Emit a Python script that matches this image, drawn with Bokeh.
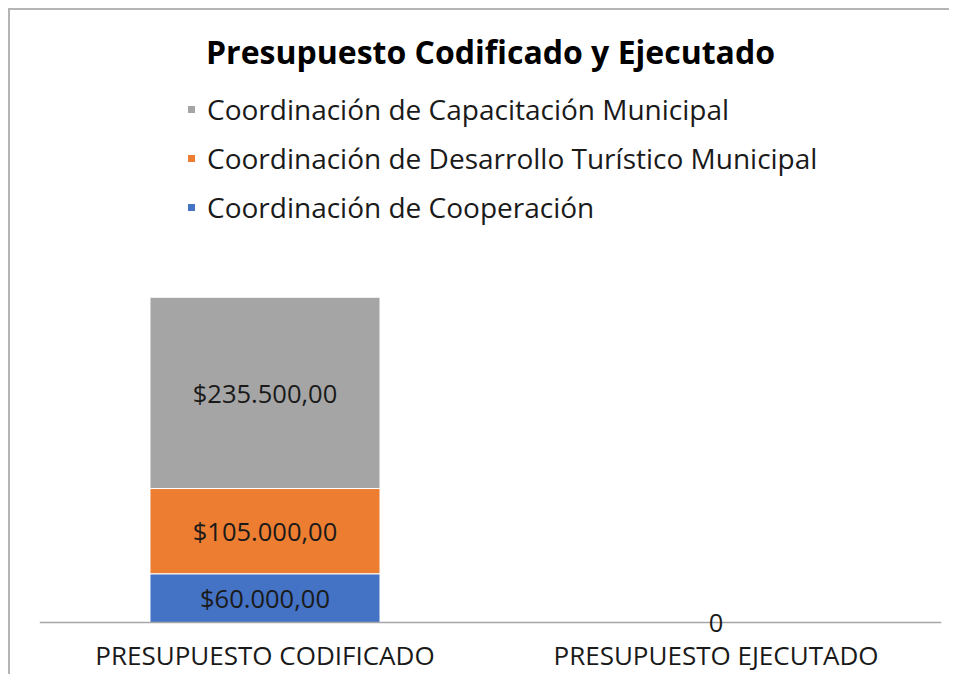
from bokeh.plotting import figure
from bokeh.models import FactorRange, Range1d, Legend, LegendItem, ColumnDataSource, LabelSet
from bokeh.core.properties import value
from bokeh.embed import file_html
from bokeh.resources import INLINE

# ---- data ----
categories = ["PRESUPUESTO CODIFICADO", "PRESUPUESTO EJECUTADO"]
series_names = [
    "Coordinación de Cooperación",
    "Coordinación de Desarrollo Turístico Municipal",
    "Coordinación de Capacitación Municipal",
]
cooperacion = [60000, 0]
turistico = [105000, 0]
capacitacion = [235500, 0]
colors = ["#4472C4", "#ED7D31", "#A5A5A5"]
title_text = "Presupuesto Codificado y Ejecutado"

FONT = "Open Sans"


def fmt_money(v):
    s = f"{v:,.2f}"
    s = s.replace(",", "X").replace(".", ",").replace("X", ".")
    return "$" + s


keys = ["coop", "tur", "cap"]
src = ColumnDataSource(dict(cat=categories, coop=cooperacion, tur=turistico, cap=capacitacion))

p = figure(
    x_range=FactorRange(*categories),
    y_range=Range1d(-64000, 660000),
    width=949,
    height=674,
    output_backend="svg",
    toolbar_location=None,
    min_border_left=39,
    min_border_right=8,
    min_border_bottom=0,
    min_border_top=86,
    title=title_text,
)
# chart-area border: only its left and top edges fall inside the window
p.border_fill_alpha = 0
p.styles = {"box-shadow": "inset 8px 8px 0px 0px #ffffff, inset 10px 10px 0px 0px #b4b4b4",
            "background-color": "#ffffff"}

p.title.align = "center"
p.title.text_font = FONT
p.title.text_font_style = "bold"
p.title.text_font_size = "32px"
p.title.text_color = "#000000"
p.title.standoff = 28

renderers = p.vbar_stack(
    keys, x="cat", width=0.51, source=src,
    fill_color=colors, line_color="white", line_width=1,
)

# data labels
lx, ly, lt = [], [], []
bottom = 0
for vals in (cooperacion, turistico, capacitacion):
    v = vals[0]
    lx.append(categories[0])
    ly.append(bottom + v / 2)
    lt.append(fmt_money(v))
    bottom += v
exec_total = cooperacion[1] + turistico[1] + capacitacion[1]
lx.append(categories[1])
ly.append(exec_total)
lt.append(f"{exec_total:d}")
lab_src = ColumnDataSource(dict(x=lx, y=ly, t=lt))
labels = LabelSet(x="x", y="y", text="t", source=lab_src, text_align="center", text_baseline="middle",
                  text_font=value(FONT), text_font_size=value("25.5px"), text_color=value("#1a1a1a"))
p.add_layout(labels)

legend = Legend(
    items=[LegendItem(label=series_names[i], renderers=[renderers[i]]) for i in (2, 1, 0)],
    location=(147, 448),
    orientation="vertical",
)
legend.label_text_font = FONT
legend.label_text_font_size = "28px"
legend.label_text_color = "#1a1a1a"
legend.glyph_width = 10
legend.glyph_height = 10
legend.label_standoff = 11
legend.spacing = 11
legend.padding = 0
legend.margin = 0
legend.border_line_color = None
legend.background_fill_alpha = 0
p.add_layout(legend)

p.yaxis.visible = False
p.xgrid.grid_line_color = None
p.ygrid.grid_line_color = None
p.outline_line_color = None
p.xaxis.fixed_location = 0
p.xaxis.axis_line_color = "#a6a6a6"
p.xaxis.axis_line_width = 1.5
p.xaxis.major_tick_line_color = None
p.xaxis.minor_tick_line_color = None
p.xaxis.major_label_text_font = FONT
p.xaxis.major_label_text_font_size = "26px"
p.xaxis.major_label_text_color = "#1a1a1a"
p.xaxis.major_label_standoff = 8

open("out.html", "w").write(file_html(p, INLINE))
